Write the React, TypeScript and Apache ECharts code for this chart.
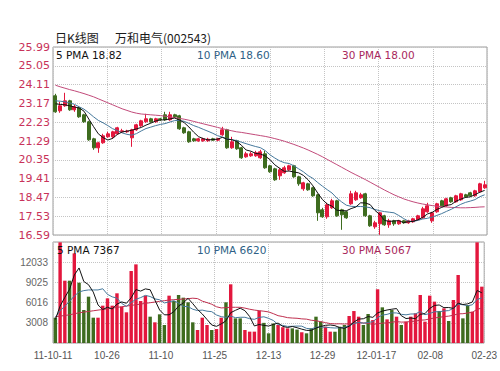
import React, { useEffect, useRef } from 'react';
import * as echarts from 'echarts';

// ---- data ----
const dates: string[] = [
  '2011-10-11','2011-10-12','2011-10-13','2011-10-14','2011-10-17','2011-10-18','2011-10-19','2011-10-20','2011-10-21','2011-10-24','2011-10-25','2011-10-26','2011-10-27','2011-10-28','2011-10-31',
  '2011-11-01','2011-11-02','2011-11-03','2011-11-04','2011-11-07','2011-11-08','2011-11-09','2011-11-10','2011-11-11','2011-11-14','2011-11-15','2011-11-16','2011-11-17','2011-11-18','2011-11-21','2011-11-22','2011-11-23','2011-11-24','2011-11-25','2011-11-28','2011-11-29','2011-11-30',
  '2011-12-01','2011-12-02','2011-12-05','2011-12-06','2011-12-07','2011-12-08','2011-12-09','2011-12-12','2011-12-13','2011-12-14','2011-12-15','2011-12-16','2011-12-19','2011-12-20','2011-12-21','2011-12-22','2011-12-23','2011-12-26','2011-12-27','2011-12-28','2011-12-29','2011-12-30',
  '2012-01-04','2012-01-05','2012-01-06','2012-01-09','2012-01-10','2012-01-11','2012-01-12','2012-01-13','2012-01-16','2012-01-17','2012-01-18','2012-01-19','2012-01-20','2012-01-30','2012-01-31',
  '2012-02-01','2012-02-02','2012-02-03','2012-02-06','2012-02-07','2012-02-08','2012-02-09','2012-02-10','2012-02-13','2012-02-14','2012-02-15','2012-02-16','2012-02-17','2012-02-20','2012-02-21','2012-02-22','2012-02-23',
];

const tickLabels: string[] = ['11-10-11', '10-26', '11-10', '11-25', '12-13', '12-29', '12-01-17', '02-08', '02-23'];

const opens: number[] = [
  23.55, 22.80, 23.05, 23.30, 22.85, 22.95, 22.60, 22.25, 21.40, 20.95,
  21.20, 21.50, 21.50, 21.65, 21.75, 21.75, 21.45, 21.85, 22.05, 22.25,
  22.40, 22.25, 22.40, 22.60, 22.35, 22.60, 22.55, 21.95, 21.75, 21.40,
  21.30, 21.30, 21.30, 21.40, 21.33, 21.60, 21.85, 20.95, 21.30, 20.95,
  20.50, 20.55, 20.55, 20.45, 20.65, 20.05, 19.90, 19.55, 19.70, 19.85,
  20.05, 19.50, 18.90, 19.15, 18.95, 18.60, 17.85, 17.50, 17.95, 18.30,
  17.85, 17.75, 18.15, 18.35, 18.45, 18.65, 17.55, 17.00, 17.15, 17.55,
  17.10, 17.30, 17.15, 17.30, 17.20, 17.25, 17.35, 17.45, 17.75, 17.30,
  17.75, 18.30, 18.05, 18.45, 18.25, 18.35, 18.60, 18.70, 18.55, 18.75,
  18.95,
];
const closes: number[] = [
  22.75, 23.05, 23.30, 22.85, 23.00, 22.50, 22.25, 21.35, 20.95, 21.20,
  21.55, 21.65, 21.75, 21.95, 21.80, 21.78, 21.85, 22.10, 22.30, 22.40,
  22.25, 22.40, 22.35, 22.35, 22.60, 22.50, 21.90, 21.70, 21.25, 21.30,
  21.40, 21.40, 21.38, 21.33, 21.40, 21.85, 20.95, 21.25, 20.90, 20.45,
  20.65, 20.65, 20.70, 20.75, 19.95, 19.75, 19.35, 19.85, 19.95, 20.05,
  19.50, 19.15, 19.20, 18.85, 18.55, 17.70, 17.50, 18.10, 18.30, 17.55,
  17.60, 17.45, 18.65, 18.70, 18.60, 17.55, 17.05, 17.20, 17.70, 17.10,
  17.30, 17.15, 17.30, 17.20, 17.30, 17.40, 17.55, 17.90, 18.05, 17.70,
  18.15, 18.05, 18.40, 18.25, 18.55, 18.65, 18.50, 18.55, 18.80, 19.15,
  19.10,
];
const lows: number[] = [
  22.70, 22.70, 23.00, 22.80, 22.75, 22.45, 22.20, 21.30, 20.85, 20.70,
  21.15, 21.45, 21.40, 21.60, 21.70, 21.70, 21.00, 21.80, 22.00, 22.20,
  22.20, 22.20, 22.30, 22.30, 22.30, 22.45, 21.85, 21.65, 21.20, 21.25,
  21.25, 21.25, 21.25, 21.30, 21.28, 21.55, 20.90, 20.90, 20.85, 20.40,
  20.45, 20.50, 20.50, 20.40, 19.90, 19.70, 19.30, 19.35, 19.65, 19.80,
  19.45, 19.05, 18.80, 18.80, 18.50, 17.30, 17.45, 17.40, 17.90, 17.50,
  16.85, 17.40, 18.10, 18.30, 18.40, 17.50, 17.00, 16.90, 16.60, 17.05,
  16.95, 17.05, 17.10, 17.15, 17.15, 17.20, 17.30, 17.40, 17.70, 17.20,
  17.70, 18.00, 18.00, 18.20, 18.20, 18.30, 18.45, 18.50, 18.50, 18.70,
  18.90,
];
const highs: number[] = [
  23.65, 23.25, 23.70, 23.35, 23.10, 23.00, 22.65, 22.30, 21.45, 21.25,
  21.65, 21.75, 21.80, 22.00, 21.90, 21.85, 21.90, 22.15, 22.35, 22.65,
  22.45, 22.45, 22.45, 22.75, 22.75, 22.65, 22.60, 22.00, 21.80, 21.45,
  21.45, 21.45, 21.45, 21.45, 21.45, 22.00, 21.90, 21.50, 21.35, 21.00,
  20.75, 20.75, 20.80, 20.85, 20.80, 20.10, 19.95, 19.95, 20.05, 20.10,
  20.10, 19.55, 19.25, 19.20, 19.00, 18.65, 17.95, 18.20, 18.40, 18.35,
  17.90, 17.80, 18.80, 18.80, 18.70, 18.70, 17.60, 17.30, 17.75, 17.60,
  17.40, 17.35, 17.35, 17.35, 17.35, 17.45, 17.60, 18.00, 18.20, 17.75,
  18.20, 18.35, 18.45, 18.50, 18.60, 18.70, 18.65, 18.75, 18.85, 19.20,
  19.30,
];
const volumes: number[] = [
  3770, 14990, 9280, 9280, 13350, 8980, 4910, 6900, 3770, 3770,
  5560, 6650, 5560, 7400, 5410, 4570, 10720, 11710, 6250, 7050,
  3920, 3080, 4270, 2680, 7050, 6250, 7150, 6750, 6060, 3080,
  1940, 3770, 2680, 1940, 2080, 3770, 6060, 8740, 3670, 3670,
  1940, 1690, 1690, 4800, 3000, 1440, 2900, 2680, 2350, 2180,
  2180, 2000, 1600, 1440, 2180, 3920, 3200, 2430, 1690, 1680,
  2430, 2680, 4020, 4760, 3920, 2680, 4320, 3420, 8000, 5310,
  3520, 4910, 3920, 2680, 3180, 3920, 4420, 7150, 3180, 7050,
  6160, 4770, 5160, 3280, 6400, 10130, 3670, 5660, 4670, 14990,
  8390,
];
// 30-day price average line as drawn (it starts with history before the first bar)
const ma30Price: number[] = [
  24.08, 24.00, 23.93, 23.86, 23.80, 23.73, 23.66, 23.58, 23.50, 23.40,
  23.30, 23.20, 23.10, 23.00, 22.90, 22.82, 22.74, 22.68, 22.64, 22.62,
  22.60, 22.58, 22.56, 22.53, 22.50, 22.46, 22.42, 22.38, 22.33, 22.27,
  22.21, 22.15, 22.09, 22.03, 21.97, 21.91, 21.85, 21.80, 21.75, 21.72,
  21.68, 21.64, 21.60, 21.56, 21.52, 21.47, 21.41, 21.35, 21.28, 21.20,
  21.12, 21.03, 20.94, 20.84, 20.73, 20.62, 20.50, 20.37, 20.24, 20.11,
  19.98, 19.85, 19.72, 19.60, 19.48, 19.36, 19.23, 19.10, 18.97, 18.84,
  18.72, 18.60, 18.50, 18.40, 18.32, 18.25, 18.19, 18.14, 18.10, 18.06,
  18.03, 18.01, 17.99, 17.97, 17.96, 17.95, 17.95, 17.96, 17.97, 17.99,
  18.00,
];
// first points of the average lines (their windows reach before the first bar)
const ma5Lead: number[] = [23.15, 23.12, 23.10, 23.05];
const ma10Lead: number[] = [23.30, 23.28, 23.25, 23.20, 23.12, 23.00, 22.88, 22.70, 22.50];
const volMa5Lead: number[] = [3500, 5500, 6800, 8000];
const volMa10Lead: number[] = [3800, 4800, 5500, 6200, 7000, 7600, 7800, 7900, 7900];
const volMa30Lead: number[] = [
  3900, 4000, 4100, 4200, 4350, 4500, 4600, 4700, 4800, 4900,
  5000, 5100, 5200, 5300, 5400, 5500, 5600, 5700, 5800, 5900,
  6000, 6100, 6200, 6300, 6400, 6450, 6500, 6550, 6600,
];

const priceLegend = ['5 PMA 18.82', '10 PMA 18.60', '30 PMA 18.00'];
const volumeLegend = ['5 PMA 7367', '10 PMA 6620', '30 PMA 5067'];
const titleLeft = '日K线图';
const titleRight = '万和电气(002543)';

const priceMin = 16.59;
const priceMax = 25.99;
const priceStep = 0.94;
const volMax = 15041.2;

// ---- styles ----
const UP = '#e3173d';
const DOWN = '#3e6c1f';
const MA5C = '#111111';
const MA10C = '#46799c';
const MA30C = '#c24a7a';
const VMA30C = '#c0304f';
const GRIDC = '#c4c4c4';
const BORDERC = '#9c9c9c';

function movingAverage(values: number[], n: number, lead: number[]): number[] {
  return values.map((_, i) => {
    if (i < lead.length) return lead[i];
    let s = 0;
    for (let k = i - n + 1; k <= i; k++) s += values[k];
    return Math.round((s / n) * 1000) / 1000;
  });
}

export default function App() {
  const ref = useRef<HTMLDivElement>(null);

  useEffect(() => {
    if (!ref.current) return;
    const chart = echarts.init(ref.current, null, { renderer: 'svg' });

    const ohlc = dates.map((_, i) => [opens[i], closes[i], lows[i], highs[i]]);
    const volData = volumes.map((v, i) => ({
      value: v,
      itemStyle: { color: closes[i] >= opens[i] ? UP : DOWN },
    }));
    const ma5 = movingAverage(closes, 5, ma5Lead);
    const ma10 = movingAverage(closes, 10, ma10Lead);
    const vma5 = movingAverage(volumes, 5, volMa5Lead);
    const vma10 = movingAverage(volumes, 10, volMa10Lead);
    const vma30 = movingAverage(volumes, 30, volMa30Lead);

    const split = { show: true, lineStyle: { type: 'dotted', color: GRIDC, width: 1 } };
    const hiddenCat = (gi: number) => ({
      type: 'category', gridIndex: gi, data: dates, boundaryGap: true,
      axisLine: { show: false }, axisTick: { show: false }, axisLabel: { show: false }, splitLine: { show: false },
    });
    const lineSeries = (name: string, data: number[], color: string, xi: number, yi: number, z = 5) => ({
      name, type: 'line', data, xAxisIndex: xi, yAxisIndex: yi, showSymbol: false, symbol: 'none',
      smooth: false, lineStyle: { color, width: 1 }, itemStyle: { color }, z, silent: true,
    });
    const legendFont = '10.5px "DejaVu Sans", sans-serif';

    chart.setOption({
      animation: false,
      backgroundColor: '#ffffff',
      grid: [
        { left: 53, top: 47, width: 434, height: 188, show: true, borderColor: BORDERC, borderWidth: 1, backgroundColor: '#fff' },
        { left: 53, top: 242, width: 434, height: 101, show: true, borderColor: BORDERC, borderWidth: 1, backgroundColor: '#fff' },
      ],
      xAxis: [
        hiddenCat(0),
        hiddenCat(1),
        {
          type: 'value', gridIndex: 0, min: 0, max: 8, interval: 1,
          axisLine: { show: false }, axisTick: { show: false }, axisLabel: { show: false }, splitLine: split,
        },
        {
          type: 'value', gridIndex: 1, min: 0, max: 8, interval: 1, position: 'bottom',
          axisLine: { show: false }, axisTick: { show: false }, splitLine: split,
          axisLabel: {
            show: true, margin: 7, color: '#555', fontSize: 10,
            fontFamily: '"Liberation Sans Narrow", "Arial Narrow", sans-serif',
            formatter: (v: number) => tickLabels[Math.round(v)] ?? '',
          },
        },
      ],
      yAxis: [
        {
          type: 'value', gridIndex: 0, min: priceMin, max: priceMax, interval: priceStep,
          axisLine: { show: false }, axisTick: { show: false }, splitLine: split,
          axisLabel: {
            margin: 3, color: '#c8325a', fontSize: 11, fontFamily: '"DejaVu Sans", sans-serif',
            formatter: (v: number) => v.toFixed(2),
          },
        },
        {
          type: 'value', gridIndex: 1, min: 0, max: volMax, interval: volMax / 5,
          axisLine: { show: false }, axisTick: { show: false }, splitLine: split,
          axisLabel: {
            margin: 5, color: '#666', fontSize: 10,
            fontFamily: '"Liberation Sans Narrow", "Arial Narrow", sans-serif',
            formatter: (v: number) => (v <= 0 || v >= volMax - 1 ? '' : String(Math.round(v))),
          },
        },
      ],
      series: [
        {
          name: 'K', type: 'candlestick', xAxisIndex: 0, yAxisIndex: 0, data: ohlc, barWidth: '72%',
          itemStyle: { color: UP, color0: DOWN, borderColor: UP, borderColor0: DOWN, borderWidth: 1 },
          z: 3, silent: true,
        },
        lineSeries('MA5', ma5, MA5C, 0, 0, 6),
        lineSeries('MA10', ma10, MA10C, 0, 0, 5),
        lineSeries('MA30', ma30Price, MA30C, 0, 0, 4),
        { name: 'VOL', type: 'bar', xAxisIndex: 1, yAxisIndex: 1, data: volData, barWidth: '72%', z: 3, silent: true },
        lineSeries('VMA5', vma5, MA5C, 1, 1, 6),
        lineSeries('VMA10', vma10, MA10C, 1, 1, 5),
        lineSeries('VMA30', vma30, VMA30C, 1, 1, 4),
      ],
      graphic: [
        { type: 'text', x: 55, y: 37, z: 100, style: { text: titleLeft, fill: '#1a1a1a', font: '12px "Noto Sans CJK SC", sans-serif', verticalAlign: 'middle' } },
        { type: 'text', x: 115, y: 37, z: 100, style: { text: titleRight, fill: '#1a1a1a', font: '12px "Noto Sans CJK SC", sans-serif', verticalAlign: 'middle' } },
        { type: 'text', x: 56, y: 55, z: 100, style: { text: priceLegend[0], fill: MA5C, font: legendFont, verticalAlign: 'middle' } },
        { type: 'text', x: 197, y: 55, z: 100, style: { text: priceLegend[1], fill: '#2e5f86', font: legendFont, verticalAlign: 'middle' } },
        { type: 'text', x: 342, y: 55, z: 100, style: { text: priceLegend[2], fill: '#a8285c', font: legendFont, verticalAlign: 'middle' } },
        { type: 'text', x: 57, y: 250, z: 100, style: { text: volumeLegend[0], fill: MA5C, font: legendFont, verticalAlign: 'middle' } },
        { type: 'text', x: 197, y: 250, z: 100, style: { text: volumeLegend[1], fill: '#2e5f86', font: legendFont, verticalAlign: 'middle' } },
        { type: 'text', x: 342, y: 250, z: 100, style: { text: volumeLegend[2], fill: '#a8285c', font: legendFont, verticalAlign: 'middle' } },
      ],
    });

    return () => chart.dispose();
  }, []);

  return (
    <div
      ref={ref}
      style={{ position: 'fixed', left: 0, top: 0, width: 500, height: 371, background: '#fff' }}
    />
  );
}
